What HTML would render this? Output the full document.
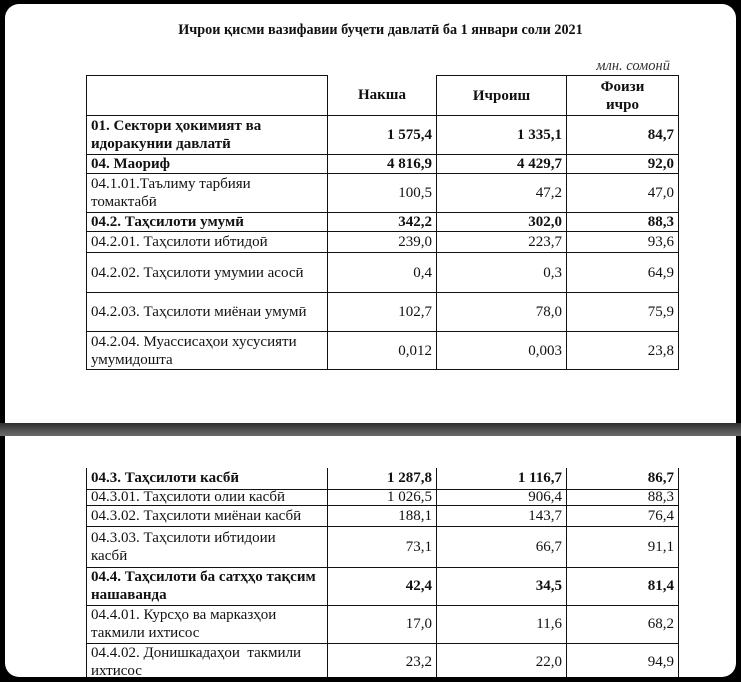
<!DOCTYPE html>
<html><head><meta charset="utf-8"><style>
body{margin:0;width:741px;height:682px;background:#000;position:relative;overflow:hidden;font-family:"Liberation Serif","DejaVu Serif",serif;color:#111}
.pg{position:absolute;left:5px;top:4px;width:731px;height:673px;background:#fff;border-radius:14px}
.sep{position:absolute;left:0;top:423px;width:741px;height:13px;background:linear-gradient(#2e2e2e,#555 60%,#6a6a6a)}
.title{position:absolute;left:10px;width:741px;top:22px;text-align:center;font-weight:bold;font-size:14.2px}
.unit{position:absolute;right:71px;top:58px;font-style:italic;font-size:14.5px;color:#333}
table{position:absolute;left:86px;border-collapse:collapse;table-layout:fixed;font-size:15px}
td{border:1px solid #111;padding:0 4px;line-height:18px;vertical-align:middle;overflow:hidden;white-space:nowrap}
td.n{text-align:right}
tr.b td{font-weight:bold}
.h td{text-align:center;font-weight:bold}
</style></head><body>
<div class="pg"></div>
<div class="title">Ичрои қисми вазифавии буҷети давлатӣ ба 1 январи соли 2021</div>
<div class="unit">млн. сомонӣ</div>
<table style="top:75px">
<colgroup><col style="width:241px"><col style="width:109px"><col style="width:130px"><col style="width:112px"></colgroup>
<tr class="h" style="height:40px"><td style="border-top:1.5px solid #111"></td><td style="border-top:none">Накша</td><td style="border-top:1.5px solid #111">Ичроиш</td><td style="border-top:1.5px solid #111">Фоизи<br>ичро</td></tr>
<tr class="b" style="height:39px"><td>01. Сектори ҳокимият ва<br>идоракунии давлатӣ</td><td class="n">1 575,4</td><td class="n">1 335,1</td><td class="n">84,7</td></tr>
<tr class="b" style="height:18px"><td>04. Маориф</td><td class="n">4 816,9</td><td class="n">4 429,7</td><td class="n">92,0</td></tr>
<tr style="height:39px"><td>04.1.01.Таълиму тарбияи<br>томактабӣ</td><td class="n">100,5</td><td class="n">47,2</td><td class="n">47,0</td></tr>
<tr class="b" style="height:19px"><td>04.2. Таҳсилоти умумӣ</td><td class="n">342,2</td><td class="n">302,0</td><td class="n">88,3</td></tr>
<tr style="height:21px"><td>04.2.01. Таҳсилоти ибтидоӣ</td><td class="n">239,0</td><td class="n">223,7</td><td class="n">93,6</td></tr>
<tr style="height:40px"><td>04.2.02. Таҳсилоти умумии асосӣ</td><td class="n">0,4</td><td class="n">0,3</td><td class="n">64,9</td></tr>
<tr style="height:39px"><td>04.2.03. Таҳсилоти миёнаи умумӣ</td><td class="n">102,7</td><td class="n">78,0</td><td class="n">75,9</td></tr>
<tr style="height:38px"><td>04.2.04. Муассисаҳои хусусияти<br>умумидошта</td><td class="n">0,012</td><td class="n">0,003</td><td class="n">23,8</td></tr>
</table>
<div class="sep"></div>
<table style="top:468px">
<colgroup><col style="width:241px"><col style="width:109px"><col style="width:130px"><col style="width:112px"></colgroup>
<tr class="b" style="height:21px"><td style="border-top:none">04.3. Таҳсилоти касбӣ</td><td class="n" style="border-top:none">1 287,8</td><td class="n" style="border-top:none">1 116,7</td><td class="n" style="border-top:none">86,7</td></tr>
<tr style="height:16px"><td style="line-height:15px">04.3.01. Таҳсилоти олии касбӣ</td><td class="n" style="line-height:15px">1 026,5</td><td class="n" style="line-height:15px">906,4</td><td class="n" style="line-height:15px">88,3</td></tr>
<tr style="height:21px"><td>04.3.02. Таҳсилоти миёнаи касбӣ</td><td class="n">188,1</td><td class="n">143,7</td><td class="n">76,4</td></tr>
<tr style="height:41px"><td>04.3.03. Таҳсилоти ибтидоии<br>касбӣ</td><td class="n">73,1</td><td class="n">66,7</td><td class="n">91,1</td></tr>
<tr class="b" style="height:38px"><td>04.4. Таҳсилоти ба сатҳҳо тақсим<br>нашаванда</td><td class="n">42,4</td><td class="n">34,5</td><td class="n">81,4</td></tr>
<tr style="height:38px"><td>04.4.01. Курсҳо ва марказҳои<br>такмили ихтисос</td><td class="n">17,0</td><td class="n">11,6</td><td class="n">68,2</td></tr>
<tr style="height:38px"><td>04.4.02. Донишкадаҳои&nbsp; такмили<br>ихтисос</td><td class="n">23,2</td><td class="n">22,0</td><td class="n">94,9</td></tr>
</table>
<div style="position:absolute;left:0;top:677px;width:741px;height:5px;background:#000"></div>
</body></html>
